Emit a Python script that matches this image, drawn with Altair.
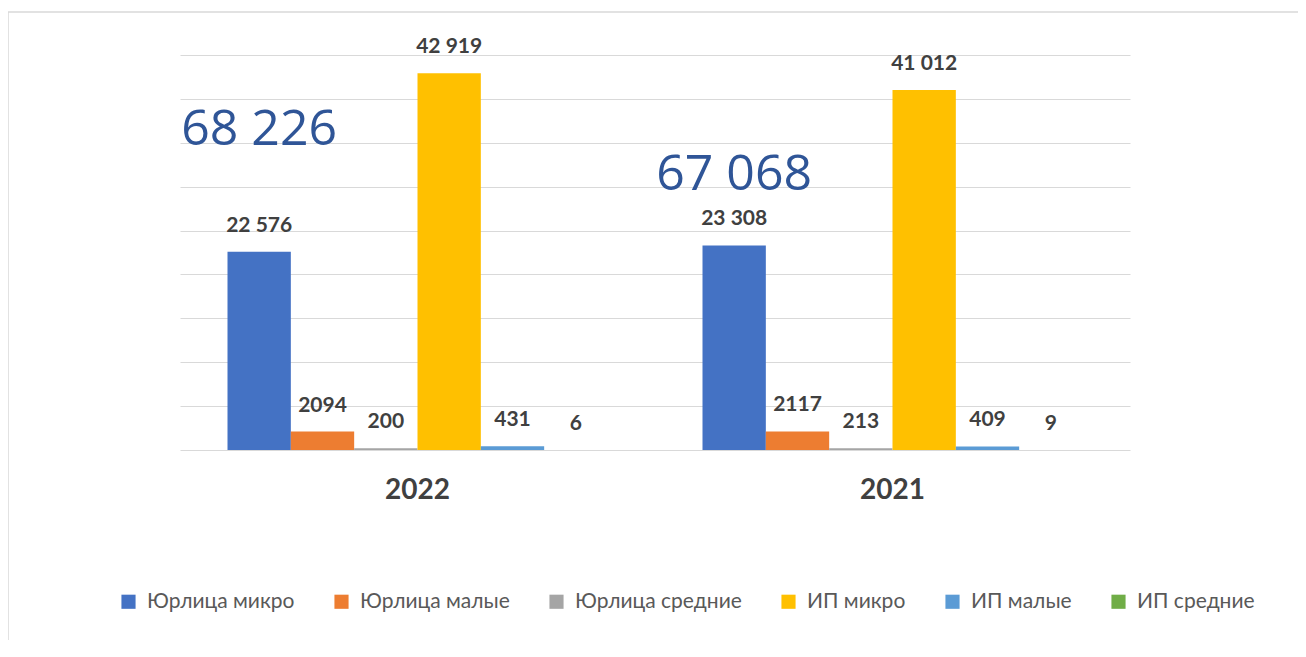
import altair as alt
import pandas as pd

years = ["2022", "2021"]
categories = ["Юрлица микро", "Юрлица малые", "Юрлица средние", "ИП микро", "ИП малые", "ИП средние"]
values_2022 = [22576, 2094, 200, 42919, 431, 6]
values_2021 = [23308, 2117, 213, 41012, 409, 9]
labels_2022 = ["22 576", "2094", "200", "42 919", "431", "6"]
labels_2021 = ["23 308", "2117", "213", "41 012", "409", "9"]
colors = ["#4472C4", "#ED7D31", "#A5A5A5", "#FFC000", "#5B9BD5", "#70AD47"]

rows = []
for yr, vals, labs in [("2022", values_2022, labels_2022), ("2021", values_2021, labels_2021)]:
    for c, v, l in zip(categories, vals, labs):
        rows.append({"year": yr, "cat": c, "value": v, "label": l})
df = pd.DataFrame(rows)

FONT = "Lato"

x = alt.X("year:N", sort=years, title=None,
          scale=alt.Scale(paddingInner=0.2, paddingOuter=0.1),
          axis=alt.Axis(domain=False, ticks=False, grid=False, labelFont=FONT, labelFontSize=28,
                        labelFontWeight="bold", labelColor="#404040", labelPadding=26,
                        labelAngle=0))
xo = alt.XOffset("cat:N", sort=categories, scale=alt.Scale(paddingInner=0))
y = alt.Y("value:Q", title=None,
          scale=alt.Scale(domain=[0, 45000], nice=False),
          axis=alt.Axis(values=list(range(0, 45001, 5000)), labels=False, ticks=False,
                        domain=False, grid=True, gridColor="#d9d9d9", gridWidth=1.2))

base = alt.Chart(df)

frame = alt.Chart(pd.DataFrame({"k": [0]})).mark_rect(
    fill=None, stroke="#d9d9d9", strokeWidth=1.5
).encode(x=alt.value(-172), x2=alt.value(1400), y=alt.value(-43), y2=alt.value(800))

bars = base.mark_bar(stroke=None).encode(
    x=x, xOffset=xo, y=y,
    color=alt.Color("cat:N", sort=categories,
                    scale=alt.Scale(domain=categories, range=colors),
                    legend=alt.Legend(title=None, orient="none", direction="horizontal",
                                      legendX=-62, legendY=536, columns=6,
                                      symbolType="square", symbolSize=200,
                                      symbolStrokeWidth=0, labelFont=FONT,
                                      labelFontSize=21, labelColor="#595959",
                                      columnPadding=36, labelOffset=8,
                                      labelLimit=300)),
)

labels = base.mark_text(font=FONT, fontSize=21, fontWeight="bold", color="#404040",
                        dy=-16, baseline="bottom").encode(
    x=x, xOffset=xo, y=y, text="label:N"
)

totals_df = df.groupby("year", as_index=False)["value"].sum()
totals_df["cat"] = "Юрлица микро"

totals = alt.Chart(totals_df).transform_calculate(
    txt="replace(format(datum.value, ','), ',', ' ')",
    pos="datum.year == '2022' ? 36500 : 31300",
).mark_text(font="Open Sans", fontSize=50, color="#2F5597", baseline="middle").encode(
    x=x, xOffset=xo, y=alt.Y("pos:Q"), text="txt:N"
)

chart = alt.layer(frame, bars, labels, totals).properties(
    width=950, height=395,
    background="white",
    autosize=alt.AutoSizeParams(type="none"),
    padding={"left": 172, "top": 47, "right": 168, "bottom": 190},
).configure_view(stroke=None)

chart.save("out.html", embed_options={"renderer": "svg", "actions": False})
